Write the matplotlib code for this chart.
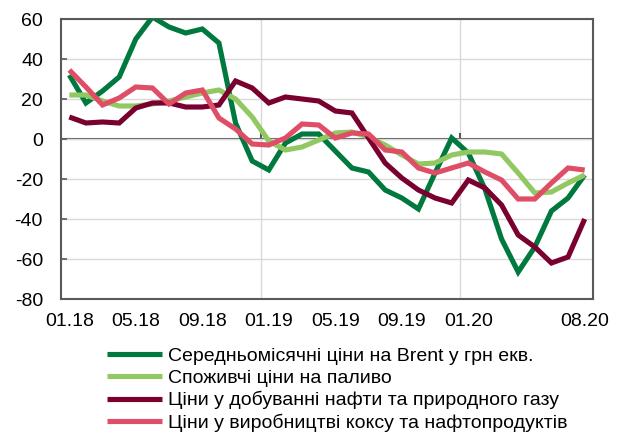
import matplotlib
matplotlib.use("Agg")
import matplotlib.pyplot as plt
import numpy as np

plt.rcParams['font.family'] = ['Liberation Sans', 'DejaVu Sans']
plt.rcParams['axes.unicode_minus'] = False

months = ["01.18","02.18","03.18","04.18","05.18","06.18","07.18","08.18","09.18","10.18","11.18","12.18",
          "01.19","02.19","03.19","04.19","05.19","06.19","07.19","08.19","09.19","10.19","11.19","12.19",
          "01.20","02.20","03.20","04.20","05.20","06.20","07.20","08.20"]
tick_labels = {"01.18", "05.18", "09.18", "01.19", "05.19", "09.19", "01.20", "08.20"}

brent = [32, 18, 24, 31, 50, 61, 56, 53, 55, 48, 8, -11, -15.5, -2, 2.5, 2.5,
         -6, -14.5, -16.5, -25.5, -29.5, -35, -17, 0.5, -7, -25, -50, -66.5, -54, -36, -29.5, -18]
fuel = [22, 22, 19, 16.5, 16.5, 17.5, 19, 21, 23, 24.5, 20, 11, -1, -5.5, -4, -0.5,
        3, 3.5, 1, -3, -8, -12.5, -12, -8, -6.5, -6.5, -7.5, -17, -27, -26.5, -22, -18]
extraction = [11, 8, 8.5, 8, 15.5, 18, 18, 16, 16, 17, 29, 25.5, 18, 21, 20, 19,
              14, 13, 0.5, -12, -19.5, -25.5, -29.5, -32, -20.5, -24.5, -33, -48, -54, -62, -59, -40]
coke = [34.5, 26, 17, 20.5, 26, 25.5, 17.5, 23, 24.5, 10.5, 5, -2.5, -3, 0.5, 7.5, 7,
        0.5, 3, 2.5, -5.5, -6.5, -14.5, -17, -14.5, -12, -16.5, -20.5, -30, -30, -22, -14.5, -15.5]

series = [
    ("Середньомісячні ціни на Brent у грн екв.", brent, "#00793F"),
    ("Споживчі ціни на паливо", fuel, "#92C862"),
    ("Ціни у добуванні нафти та природного газу", extraction, "#7A0030"),
    ("Ціни у виробництві коксу та нафтопродуктів", coke, "#DF4E66"),
]

fig = plt.figure(figsize=(6.18, 4.37), dpi=100)
ax = fig.add_axes([61/618, 1-299/437, (593-61)/618, (299-19)/437])

x = np.arange(len(months))
ax.set_xlim(-0.5, len(months) - 0.5)
ax.set_ylim(-80, 60)

axis_col = "#595959"
grid_col = "#D9D9D9"

ax.set_yticks(np.arange(-80, 61, 20))
ax.yaxis.grid(True, color=grid_col, linewidth=1.0, zorder=0)
for xv in [11.5, 23.5]:
    ax.axvline(xv, color=grid_col, linewidth=1.0, zorder=0)
ax.axhline(0, color=axis_col, linewidth=1.5, zorder=1)
ax.vlines([11.5, 23.5], 0, 3, color=axis_col, linewidth=1.5, zorder=1)

handles = []
for label, vals, col in series:
    h, = ax.plot(x, vals, color=col, linewidth=3.7, label=label, zorder=3,
                 solid_joinstyle='miter', solid_capstyle='butt')
    handles.append(h)

tick_pos = [i for i, m in enumerate(months) if m in tick_labels]
ax.set_xticks(tick_pos)
ax.set_xticklabels([months[i] for i in tick_pos])
ax.tick_params(axis='x', length=0, pad=10, labelsize=14)
ax.tick_params(axis='y', direction='in', length=4, color=axis_col, width=1.2,
               pad=13, labelsize=14)

for s in ax.spines.values():
    s.set_color(axis_col)
    s.set_linewidth(1.5)

fig.legend(handles=handles, loc='upper left', bbox_to_anchor=(107/618, 1-347/437),
           frameon=False, fontsize=14, handlelength=2.85, handletextpad=0.28,
           labelspacing=0.23, borderpad=0, borderaxespad=0)

fig.savefig("out.png", dpi=100)
